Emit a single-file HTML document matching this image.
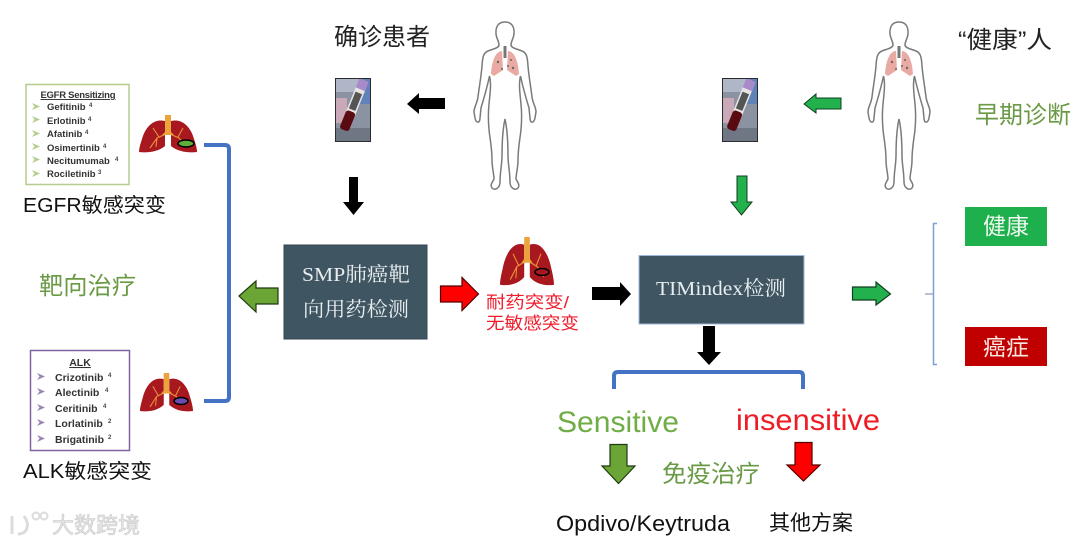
<!DOCTYPE html>
<html><head><meta charset="utf-8">
<style>
html,body{margin:0;padding:0;background:#fff;width:1080px;height:544px;overflow:hidden}
svg{display:block;filter:blur(.35px)}
text{font-family:"Liberation Sans","Noto Sans CJK SC",sans-serif}
.s{font-family:"Liberation Serif","Noto Serif CJK SC",serif;fill:#e8edf0;font-size:20px}
.d{font-size:9.5px;font-weight:bold;fill:#333}
.a{font-size:10.5px;font-weight:bold;fill:#333}
.u{font-size:6px;font-weight:bold;fill:#444}
</style></head><body>
<svg xmlns="http://www.w3.org/2000/svg" width="1080" height="544" viewBox="0 0 1080 544">
<defs>
<symbol id="body" viewBox="-32 -1 64 170" overflow="visible">
<path fill="#e8aaa2" d="M-3,29 C-8,29 -13,36 -14,52 L-11,54 L-2,48 Z M3,29 C8,29 13,36 14,52 L11,54 L2,48 Z"/>
<rect x="-1.5" y="24" width="3" height="12" fill="#777"/>
<g fill="#666"><circle cx="-7" cy="40" r="1.2"/><circle cx="-3" cy="47" r="1"/><circle cx="6" cy="38" r="1"/><circle cx="8" cy="46" r="1.2"/><circle cx="3" cy="44" r="1"/></g>
<path fill="none" stroke="#7a7a7a" stroke-width="1.500" d="M0,0 C-7,0 -9.5,5 -9,12 C-8.5,17 -6,19 -6,23 C-6,26 -12,27 -17,29 C-22,31 -22.5,36 -23,44 C-24,56 -26,66 -27,75 C-28,82 -31,85 -31,90 L-30,96 C-29,101 -25,102 -25,96 L-24,86 C-21,76 -18,66 -15.500,54 C-13.500,62 -15,72 -16,82 C-17,92 -17,100 -15.500,112 C-14,122 -13,130 -13,138 C-13,146 -11,152 -11,157 C-13,161 -15,163 -13,166 C-10,169 -5,166 -5,160 C-5,150 -3,142 -3,134 C-3,120 -2.500,108 0,97 C2.500,108 3,120 3,134 C3,142 5,150 5,160 C5,166 10,169 13,166 C15,163 13,161 11,157 C11,152 13,146 13,138 C13,130 14,122 15.500,112 C17,100 17,92 16,82 C15,72 13.500,62 15.500,54 C18,66 21,76 24,86 L25,96 C25,102 29,101 30,96 L31,90 C31,85 28,82 27,75 C26,66 24,56 23,44 C22.500,36 22,31 17,29 C12,27 6,26 6,23 C6,19 8.500,17 9,12 C9.500,5 7,0 0,0 Z"/>
</symbol>
<symbol id="lung" viewBox="0 0 58 38" preserveAspectRatio="none">
<path fill="#a8181f" d="M26,6 C14,3 6,13 3,24 C1,30 0,34 0,37 C8,38 19,37 26,31 Z"/>
<path fill="#a8181f" d="M32,6 C44,3 52,13 55,24 C57,30 58,34 58,37 C50,38 39,37 32,31 Z"/>
<g fill="none" stroke="#e8913a" stroke-width="1.100">
<path d="M27,19 L18,23 L11,33 M18,23 L17,32 M20,22 L14,13"/>
<path d="M31,19 L40,23 L47,31 M39,22 L44,13"/>
</g>
<path fill="#eda33c" d="M26,0 H32 V17 L35,20 H23 L26,17 Z"/>
</symbol>
<symbol id="tube" viewBox="0 0 36 64" preserveAspectRatio="none">
<rect width="36" height="64" fill="#8b93a3"/>
<rect width="36" height="14" fill="#aeb6c8"/>
<rect y="50" width="36" height="14" fill="#6f7785"/>
<rect x="0" y="20" width="12" height="25" fill="#c9a9b8"/>
<rect x="24" y="0" width="12" height="26" fill="#5f82b8"/>
<g transform="rotate(22 18 32)">
<rect x="12" y="3" width="10" height="50" rx="3" fill="#e8e4e4"/>
<rect x="12" y="0" width="10" height="10" fill="#a98ac8"/>
<rect x="12" y="34" width="10" height="20" rx="3" fill="#5a0b11"/>
<rect x="13.500" y="14" width="7" height="18" fill="#555"/>
</g>
<rect x=".5" y=".5" width="35" height="63" fill="none" stroke="#2b2b2b"/>
</symbol>
<polygon id="b1" points="0,0 8,3.500 0,7 2.500,3.500" fill="#b4cd8c"/>
<polygon id="b2" points="0,0 8,3.500 0,7 2.500,3.500" fill="#9a86b5"/>
</defs>

<!-- top -->
<text x="334" y="45" font-size="24" fill="#222" textLength="96" lengthAdjust="spacingAndGlyphs">确诊患者</text>
<use href="#body" x="473" y="21" width="64" height="170"/>
<use href="#tube" x="335" y="78" width="36" height="64"/>
<polygon points="407,104 419,93 419,98 445,98 445,109 419,109 419,114" fill="#000"/>
<polygon points="349,177 358,177 358,202 364,202 353.500,215 343,202 349,202" fill="#000"/>

<text x="958" y="48" font-size="24" fill="#222" textLength="94" lengthAdjust="spacingAndGlyphs">“健康”人</text>
<use href="#body" x="867" y="21" width="64" height="170"/>
<use href="#tube" x="722" y="78" width="36" height="64"/>
<polygon points="804,104 816,94 816,98 841,98 841,109 816,109 816,113" fill="#22b14c" stroke="#123f1f"/>
<polygon points="737,176 747,176 747,202 752,202 741.500,215 731,202 737,202" fill="#22b14c" stroke="#123f1f"/>
<text x="975" y="123" font-size="24" fill="#6a9a45" textLength="96" lengthAdjust="spacingAndGlyphs">早期诊断</text>

<!-- EGFR -->
<rect x="26" y="84.500" width="103" height="100" fill="#fff" stroke="#b4cd8c" stroke-width="1.500"/>
<text x="78" y="98" class="d" text-anchor="middle" text-decoration="underline" textLength="75">EGFR Sensitizing</text>
<use href="#b1" x="32" y="103"/><text x="47" y="110" class="d">Gefitinib</text><text x="89" y="107" class="u">4</text>
<use href="#b1" x="32" y="116"/><text x="47" y="124" class="d">Erlotinib</text><text x="88" y="121" class="u">4</text>
<use href="#b1" x="32" y="130"/><text x="47" y="137" class="d">Afatinib</text><text x="85" y="134" class="u">4</text>
<use href="#b1" x="32" y="143"/><text x="47" y="151" class="d">Osimertinib</text><text x="103" y="148" class="u">4</text>
<use href="#b1" x="32" y="156"/><text x="47" y="164" class="d">Necitumumab</text><text x="115" y="161" class="u">4</text>
<use href="#b1" x="32" y="170"/><text x="47" y="177" class="d">Rociletinib</text><text x="98" y="174" class="u">3</text>
<use href="#lung" x="139" y="115" width="58" height="38"/>
<ellipse cx="186" cy="143.500" rx="8" ry="3.500" fill="#5fae3a" stroke="#000" stroke-width="1.500"/>
<text x="23" y="212" font-size="20" fill="#111" textLength="143" lengthAdjust="spacingAndGlyphs">EGFR敏感突变</text>
<text x="39" y="294" font-size="24" fill="#6a9a45" textLength="97" lengthAdjust="spacingAndGlyphs">靶向治疗</text>

<path d="M204,145 H225 Q229,145 229,149 V397 Q229,401 225,401 H204" fill="none" stroke="#4472c4" stroke-width="4"/>

<!-- ALK -->
<rect x="30.500" y="350.500" width="99" height="100" fill="#fff" stroke="#8064a2" stroke-width="1.500"/>
<text x="80" y="366" class="a" text-anchor="middle" text-decoration="underline">ALK</text>
<use href="#b2" x="37" y="373"/><text x="55" y="381" class="a">Crizotinib</text><text x="108" y="377" class="u">4</text>
<use href="#b2" x="37" y="388"/><text x="55" y="396" class="a">Alectinib</text><text x="105" y="392" class="u">4</text>
<use href="#b2" x="37" y="404"/><text x="55" y="412" class="a">Ceritinib</text><text x="103" y="408" class="u">4</text>
<use href="#b2" x="37" y="419"/><text x="55" y="427" class="a">Lorlatinib</text><text x="108" y="423" class="u">2</text>
<use href="#b2" x="37" y="435"/><text x="55" y="443" class="a">Brigatinib</text><text x="108" y="439" class="u">2</text>
<use href="#lung" x="140" y="373" width="53" height="39"/>
<ellipse cx="181" cy="401" rx="7" ry="3.500" fill="#6a4bb0" stroke="#000" stroke-width="1.500"/>
<text x="23" y="478" font-size="20" fill="#111" textLength="129" lengthAdjust="spacingAndGlyphs">ALK敏感突变</text>

<!-- SMP -->
<rect x="284" y="245" width="143" height="94" fill="#3f5561" stroke="#33454f"/>
<text x="302" y="281" class="s" textLength="108" lengthAdjust="spacingAndGlyphs">SMP肺癌靶</text>
<text x="303" y="316" class="s" textLength="106" lengthAdjust="spacingAndGlyphs">向用药检测</text>
<polygon points="239,296 256,281 256,288 278,288 278,304 256,304 256,312" fill="#6aa535" stroke="#1f3a10" stroke-width="1.200"/>
<polygon points="440.500,286 462,286 462,277.500 478.500,294 462,310.500 462,302 440.500,302" fill="#f00" stroke="#500" stroke-width="1.200"/>

<use href="#lung" x="500" y="237" width="54" height="49"/>
<ellipse cx="542" cy="272" rx="7" ry="3.500" fill="#a8181f" stroke="#000" stroke-width="1.500"/>
<text x="486" y="308" font-size="17" fill="#f01c2c" textLength="83" lengthAdjust="spacingAndGlyphs">耐药突变/</text>
<text x="486" y="329" font-size="17" fill="#f01c2c" textLength="93" lengthAdjust="spacingAndGlyphs">无敏感突变</text>
<polygon points="592,287 620,287 620,282 631,294 620,306 620,300 592,300" fill="#000"/>

<!-- TIMindex -->
<rect x="639" y="255.500" width="165" height="68.500" fill="#3f5561" stroke="#9db8dc"/>
<text x="656" y="295" class="s" textLength="130" lengthAdjust="spacingAndGlyphs">TIMindex检测</text>
<polygon points="703,326 715,326 715,352 721,352 709,365 697,352 703,352" fill="#000"/>
<path d="M614,389 V376 Q614,372 618,372 H799 Q803,372 803,376 V389" fill="none" stroke="#4472c4" stroke-width="4"/>
<polygon points="852.500,287 876,287 876,282 890.500,294 876,305 876,300 852.500,300" fill="#22b14c" stroke="#123f1f" stroke-width="1.200"/>

<text x="557" y="432" font-size="30" fill="#70ad47" textLength="122" lengthAdjust="spacingAndGlyphs">Sensitive</text>
<text x="736" y="430" font-size="30" fill="#ee1c25" textLength="144" lengthAdjust="spacingAndGlyphs">insensitive</text>
<polygon points="610,444.500 627,444.500 627,466 635,466 618.500,483.500 602,466 610,466" fill="#6aa535" stroke="#1f3a10" stroke-width="1.200"/>
<polygon points="795,442.500 812,442.500 812,465 820,465 803.500,481 787,465 795,465" fill="#f00" stroke="#500" stroke-width="1.200"/>
<text x="662" y="482" font-size="24" fill="#6a9a45" textLength="98" lengthAdjust="spacingAndGlyphs">免疫治疗</text>
<text x="556" y="531" font-size="22" fill="#111" textLength="174" lengthAdjust="spacingAndGlyphs">Opdivo/Keytruda</text>
<text x="769" y="530" font-size="21" fill="#111" textLength="84" lengthAdjust="spacingAndGlyphs">其他方案</text>

<!-- right -->
<path d="M937,223.500 H933.500 V364.500 H937" fill="none" stroke="#7f9ed8" stroke-width="1.500"/>
<path d="M925,294 H933" stroke="#8a9ab5" stroke-width="1.200"/>
<rect x="965" y="207" width="82" height="39" fill="#1fb04e"/>
<text x="1006" y="234" font-size="23" fill="#eef8ee" text-anchor="middle">健康</text>
<rect x="965" y="327" width="82" height="39" fill="#c00000"/>
<text x="1006" y="355" font-size="23" fill="#fbe8e0" text-anchor="middle">癌症</text>

<!-- watermark -->
<g fill="none" stroke="#dcdcdc" stroke-width="3">
<path d="M12,516 V534 M18,534 C28,534 30,524 24,516"/>
<circle cx="36" cy="516" r="3.500" stroke-width="2"/><circle cx="44" cy="516" r="3.500" stroke-width="2"/>
</g>
<text x="52" y="533" font-size="22" fill="#e6e6e6" stroke="#c8c8c8" stroke-width=".6" textLength="88" lengthAdjust="spacingAndGlyphs">大数跨境</text>
</svg>
</body></html>
